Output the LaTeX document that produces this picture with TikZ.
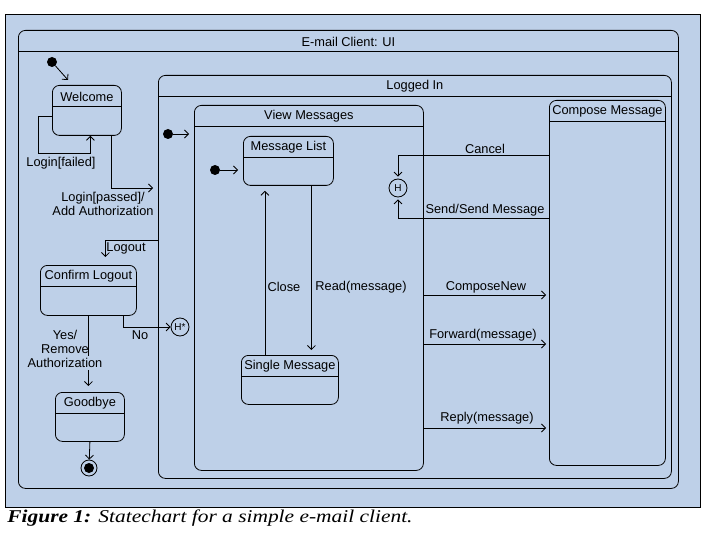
\documentclass[tikz,border=0pt]{standalone}
\usepackage{fontspec}
\setmainfont{Liberation Sans}
\newfontfamily\capfont{Liberation Serif}
\usetikzlibrary{arrows.meta}
\definecolor{panelblue}{RGB}{190,208,232}

\begin{document}
\begin{tikzpicture}[x=1pt,y=-1pt,line width=0.8pt,
    font=\fontsize{12.8}{14}\selectfont,
    >={Straight Barb[length=4pt,width=8pt]},
    state/.style={draw, rounded corners=7pt, inner sep=0pt, anchor=north west,
        path picture={\draw ([yshift=-21pt]path picture bounding box.north west)
            -- ([yshift=-21pt]path picture bounding box.north east);}},
    statesize/.style 2 args={minimum width=#1pt, minimum height=#2pt},
    title/.style={label={[anchor=center, yshift=-11.5pt]north:#1}},
    initdot/.style={circle, fill, inner sep=0pt, minimum size=10pt},
    hist/.style={circle, draw, inner sep=0pt, minimum size=18pt, font=\fontsize{10}{10}\selectfont},
    final/.style={circle, draw, inner sep=0pt, minimum size=16pt,
        path picture={\fill (path picture bounding box.center) circle (5pt);}},
    lbl/.style={inner sep=1pt, align=center}]

    \useasboundingbox (0,0) rectangle (720,540);
    \fill[white] (0,0) rectangle (720,540);
    \fill[panelblue] (5,14) rectangle (700,507);
    \draw (5,14) rectangle (700,507);

    % nested states
    \node[state, statesize={660}{458}, title={E-mail Client: UI}] (ui) at (18,30) {};
    \node[state, statesize={513}{403}, title={Logged In}] (loggedin) at (158,75) {};
    \node[state, statesize={229}{365}, title={View Messages}] (viewmsg) at (194,105) {};
    \node[state, statesize={116}{365}, title={Compose Message}] (compose) at (549,100) {};

    % simple states
    \node[state, statesize={69}{50}, title=Welcome] (welcome) at (52,85) {};
    \node[state, statesize={96}{50}, title={Confirm Logout}] (confirm) at (40,265) {};
    \node[state, statesize={69}{49}, title=Goodbye] (goodbye) at (55,392) {};
    \node[state, statesize={90}{49}, title={Message List}] (msglist) at (243,136) {};
    \node[state, statesize={97}{49}, title={Single Message}] (single) at (241,355) {};

    % pseudo states
    \node[initdot] (start) at (52,62) {};
    \node[initdot] (start2) at (168,134) {};
    \node[initdot] (start3) at (215,170) {};
    \node[hist] (deephist) at (180,327) {H*};
    \node[hist] (shallowhist) at (398,188) {H};
    \node[final] (finish) at (89,468) {};

    % transitions
    \draw[->] (start) -- ([xshift=16pt,yshift=5pt]welcome.north west);
    \draw[->] ([yshift=-6pt]welcome.west) -- ++(-14,0) -- ++(0,37) -| ([xshift=3.5pt]welcome.south);
    \draw[->, shorten >=5pt] ([xshift=-10pt]welcome.south east) |- (loggedin.west |- 0,188);
    \draw[->, shorten >=8pt] (loggedin.west |- 0,240) -| ([xshift=17pt]confirm.north);
    \draw[->] ([xshift=-13pt]confirm.south east) |- (deephist.west);
    \draw (confirm.south) -- ++(0,40);
    \draw[->] (confirm.south |- 0,370) -- ([yshift=6pt]confirm.south |- goodbye.north);
    \draw[->] (goodbye.south) -- (finish);
    \draw[->, shorten >=5pt] (start2) -- (start2 -| viewmsg.west);
    \draw[->, shorten >=5pt] (start3) -- (start3 -| msglist.west);
    \draw[->, shorten >=5pt] ([xshift=23pt]msglist.south) -- ([xshift=23pt]msglist.south |- single.north);
    \draw[->, shorten >=5pt] ([xshift=-25pt]single.north) -- ([xshift=-25pt]single.north |- msglist.south);
    \draw[->, shorten >=2pt] (compose.west |- 0,155) -| (shallowhist.north);
    \draw[->, shorten >=2pt] (compose.west |- 0,218) -| (shallowhist.south);
    \draw[->, shorten >=3pt] (viewmsg.east |- 0,295) -- (compose.west |- 0,295);
    \draw[->, shorten >=3pt] (viewmsg.east |- 0,344) -- (compose.west |- 0,344);
    \draw[->, shorten >=3pt] (viewmsg.east |- 0,428) -- (compose.west |- 0,428);

    % transition labels
    \node[lbl] (lfailed) at (61,163) {Login[failed]};
    \node[lbl] (lpassed) at (103,204) {Login[passed]/\\Add Authorization};
    \node[lbl] (llogout) at (126,248) {Logout};
    \node[lbl] (lno) at (140,335) {No};
    \node[lbl] (lyes) at (65,349) {Yes/\\Remove\\Authorization};
    \node[lbl] (lclose) at (284,287) {Close};
    \node[lbl] (lread) at (361,287) {Read(message)};
    \node[lbl] (lcancel) at (485,149) {Cancel};
    \node[lbl] (lsend) at (485,210) {Send/Send Message};
    \node[lbl] (lnew) at (486,287) {ComposeNew};
    \node[lbl] (lforward) at (483,335) {Forward(message)};
    \node[lbl] (lreply) at (487,418) {Reply(message)};

    \node[anchor=west, inner sep=0pt, font=\capfont\fontsize{18}{20}\selectfont\itshape] (caption) at (7,518)
        {\scalebox{1.19}[1]{\textbf{Figure 1:} Statechart for a simple e-mail client.}};
\end{tikzpicture}
\end{document}
